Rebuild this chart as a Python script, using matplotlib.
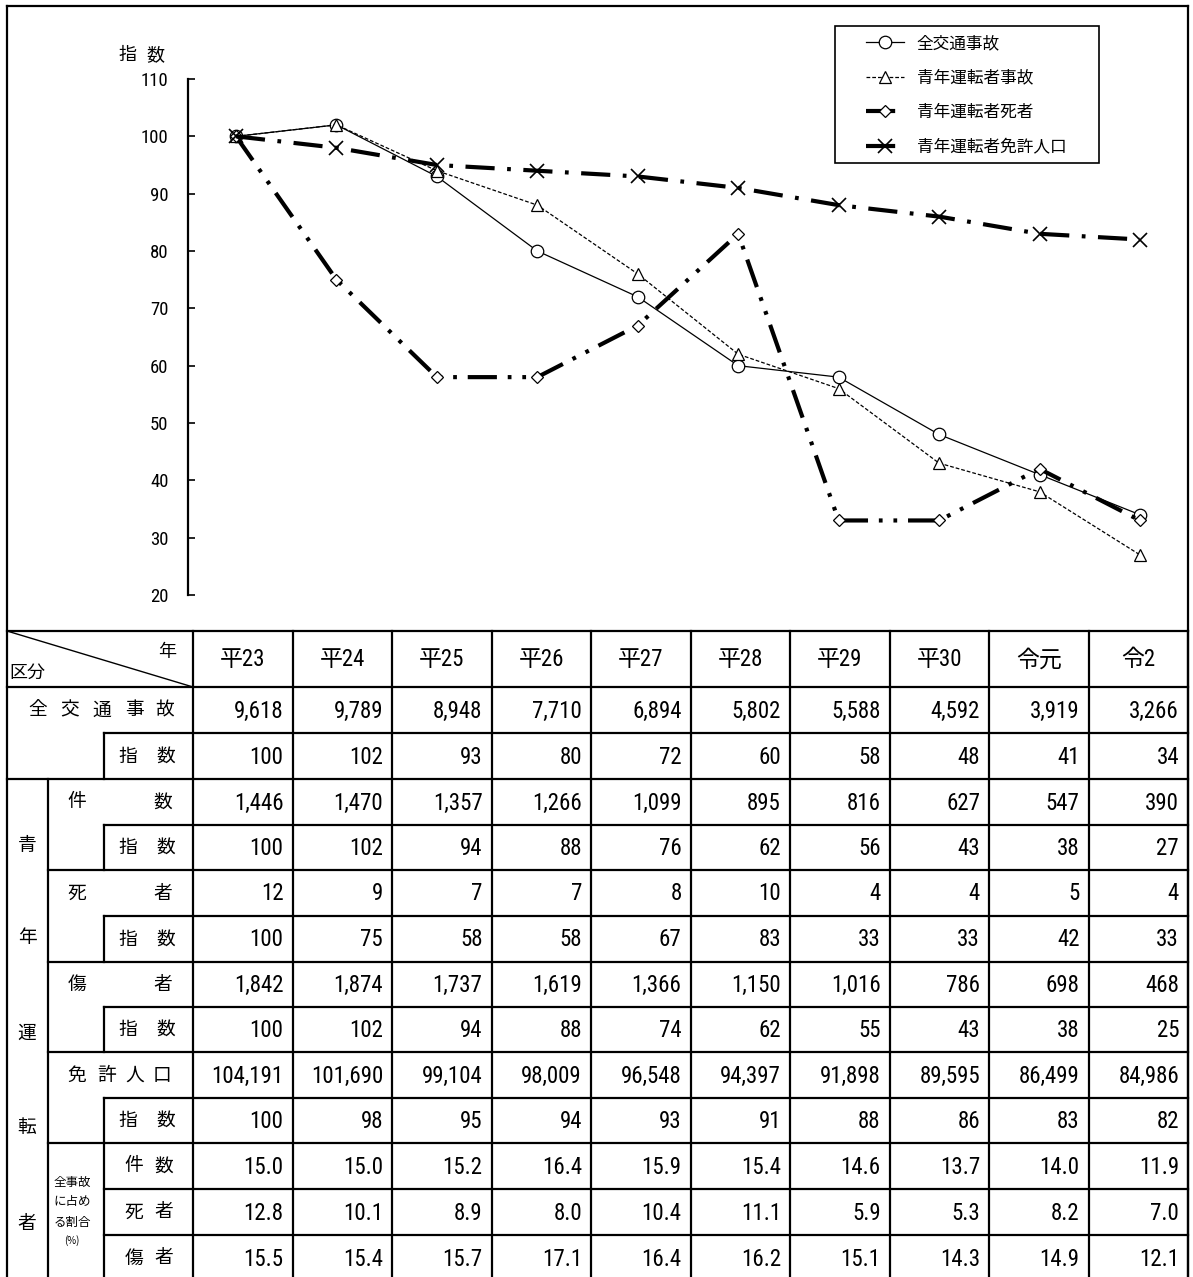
import matplotlib
matplotlib.use("Agg")
import matplotlib.pyplot as plt
from matplotlib import font_manager as fm
from matplotlib.patches import Rectangle

# ---- data ----
years = ['平23', '平24', '平25', '平26', '平27', '平28', '平29', '平30', '令元', '令2']
all_accidents = [9618, 9789, 8948, 7710, 6894, 5802, 5588, 4592, 3919, 3266]
all_index = [100, 102, 93, 80, 72, 60, 58, 48, 41, 34]
young_accidents = [1446, 1470, 1357, 1266, 1099, 895, 816, 627, 547, 390]
young_acc_index = [100, 102, 94, 88, 76, 62, 56, 43, 38, 27]
young_deaths = [12, 9, 7, 7, 8, 10, 4, 4, 5, 4]
young_death_index = [100, 75, 58, 58, 67, 83, 33, 33, 42, 33]
young_injured = [1842, 1874, 1737, 1619, 1366, 1150, 1016, 786, 698, 468]
young_inj_index = [100, 102, 94, 88, 74, 62, 55, 43, 38, 25]
licensed = [104191, 101690, 99104, 98009, 96548, 94397, 91898, 89595, 86499, 84986]
licensed_index = [100, 98, 95, 94, 93, 91, 88, 86, 83, 82]
share_acc = [15.0, 15.0, 15.2, 16.4, 15.9, 15.4, 14.6, 13.7, 14.0, 11.9]
share_death = [12.8, 10.1, 8.9, 8.0, 10.4, 11.1, 5.9, 5.3, 8.2, 7.0]
share_inj = [15.5, 15.4, 15.7, 17.1, 16.4, 16.2, 15.1, 14.3, 14.9, 12.1]

series_labels = ['全交通事故', '青年運転者事故', '青年運転者死者', '青年運転者免許人口']
y_ticks = [20, 30, 40, 50, 60, 70, 80, 90, 100, 110]


def pick_narrow_sans():
    """Return (family, stretch) of an installed regular narrow sans face, or None."""
    best, best_score = None, -1
    for fe in fm.fontManager.ttflist:
        name = fe.name.lower()
        stretch = str(fe.stretch).lower()
        if 'mono' in name or 'serif' in name or 'cjk' in name:
            continue
        if fe.style != 'normal' or fe.weight not in (400, 'normal', 'regular', 'book'):
            continue
        is_narrow = 'narrow' in name or 'condensed' in name
        is_cond = 'condensed' in stretch and 'semi' not in stretch and 'extra' not in stretch
        if not (is_narrow or is_cond):
            continue
        score = 1
        if 'sans' in name:
            score += 2
        if 'liberation' in name:
            score += 4
        if 'roboto' in name:
            score += 3
        if score > best_score:
            best_score = score
            best = (fe.name, 'normal' if is_narrow else 'condensed')
    return best


CJK = ['Noto Sans CJK JP', 'DejaVu Sans']
narrow = pick_narrow_sans()
if narrow:
    NUM = [narrow[0], 'Noto Sans CJK JP', 'DejaVu Sans']
    narrow_stretch = narrow[1]
    num_size, tick_size = 16.5, 13.5
else:
    NUM = ['Noto Sans CJK JP', 'DejaVu Sans']
    narrow_stretch = 'normal'
    num_size, tick_size = 14.5, 11.5
plt.rcParams['font.family'] = CJK

W, H = 1193, 1277
fig = plt.figure(figsize=(W / 100, H / 100), dpi=100)

# pixel-space overlay for frame and table
ov = fig.add_axes([0, 0, 1, 1])
ov.set_xlim(0, W)
ov.set_ylim(H, 0)
ov.axis('off')

# ---- chart axes ----
ax_l, ax_r, ax_t, ax_b = 188, 1188, 79, 595
ax = fig.add_axes([ax_l / W, (H - ax_b) / H, (ax_r - ax_l) / W, (ax_b - ax_t) / H])
ax.set_facecolor('none')
x0_px, step_px = 236, 100.44
ax.set_xlim((ax_l - x0_px) / step_px, (ax_r - x0_px) / step_px)
ax.set_ylim(20, 110)
for s in ['top', 'right', 'bottom']:
    ax.spines[s].set_visible(False)
ax.spines['left'].set_linewidth(1.6)
ax.set_xticks([])
ax.set_yticks(y_ticks)
ax.tick_params(axis='y', direction='in', length=5, width=1.2, pad=14, labelsize=tick_size)
for t in ax.get_yticklabels():
    t.set_family(NUM)
    t.set_stretch(narrow_stretch)

xs = list(range(len(years)))
ax.plot(xs, all_index, color='black', lw=0.9, marker='o', ms=9, mfc='white', mec='black',
        mew=0.9, label=series_labels[0], clip_on=False)
ax.plot(xs, young_acc_index, color='black', lw=0.9, dashes=(3, 1.6), marker='^', ms=9,
        mfc='white', mec='black', mew=0.9, label=series_labels[1], clip_on=False)
ax.plot(xs, young_death_index, color='black', lw=3, dashes=(7, 2.6, 0.9, 2.6, 0.9, 2.6),
        marker='D', ms=6, mfc='white', mec='black', mew=0.9, label=series_labels[2], clip_on=False)
ax.plot(xs, licensed_index, color='black', lw=3, dashes=(7, 3, 0.9, 3),
        marker='x', ms=10, mec='black', mew=1.2, label=series_labels[3], clip_on=False)

# legend entries without their own frame; the box is drawn separately
ax.legend(loc='upper left', bbox_to_anchor=(866 / W, 1 - 35 / H),
          bbox_transform=fig.transFigure, prop={'family': CJK, 'size': 12},
          frameon=False, handlelength=2.3, handletextpad=0.75, labelspacing=1.05,
          borderpad=0, borderaxespad=0)
ov.add_patch(Rectangle((835, 26), 264, 137, fill=False, ec='black', lw=1.2, zorder=5))

ov.text(127, 55, '指', ha='center', va='center', fontsize=13, family=CJK)
ov.text(155, 55, '数', ha='center', va='center', fontsize=13, family=CJK)

# ---- frame ----
LW = 1.6
def hline(y, x1, x2, lw=LW):
    ov.plot([x1, x2], [y, y], color='black', lw=lw, solid_capstyle='projecting')

def vline(x, y1, y2, lw=LW):
    ov.plot([x, x], [y1, y2], color='black', lw=lw, solid_capstyle='projecting')

left, right, top = 7, 1188, 6
hline(top, left, right)
vline(left, top, H + 5)
vline(right, top, H + 5)

# ---- table ----
rows_y = [631, 687, 733, 779, 825, 870, 916, 962, 1007, 1052, 1098, 1143, 1189, 1235, 1281]
col_x = [193 + 99.5 * i for i in range(11)]
sub1, sub2 = 48, 104

hline(rows_y[0], left, right)
hline(rows_y[1], left, right)
hline(rows_y[2], sub2, right)
hline(rows_y[3], left, right)
for k in range(4, 14):
    hline(rows_y[k], sub2 if k in (4, 6, 8, 10, 12, 13) else sub1, right)

for cx in col_x:
    vline(cx, rows_y[0], H + 5)
vline(sub1, rows_y[3], H + 5)
for a, b in [(2, 3), (4, 5), (6, 7), (8, 9), (10, 11), (11, 14)]:
    vline(sub2, rows_y[a], rows_y[b])

# header
ov.plot([left, col_x[0]], [rows_y[0], rows_y[1]], color='black', lw=1.0)
ov.text(167, 652, '年', ha='center', va='center', fontsize=13, family=CJK)
ov.text(9, 673, '区分', ha='left', va='center', fontsize=13, family=CJK)
for i, yr in enumerate(years):
    ov.text((col_x[i] + col_x[i + 1]) / 2, 660, yr, ha='center', va='center',
            fontsize=num_size, family=NUM, fontstretch=narrow_stretch)

def mid(k):
    return (rows_y[k] + rows_y[k + 1]) / 2

def label_chars(chars, xs_, k, size=13.5):
    for ch, xx in zip(chars, xs_):
        ov.text(xx, mid(k), ch, ha='center', va='center', fontsize=size, family=CJK)

label_chars('全交通事故', [38, 70, 102, 134, 165], 1)
label_chars('指数', [128, 166], 2)
label_chars('件数', [77, 163], 3)
label_chars('指数', [128, 166], 4)
label_chars('死者', [77, 163], 5)
label_chars('指数', [128, 166], 6)
label_chars('傷者', [77, 163], 7)
label_chars('指数', [128, 166], 8)
label_chars('免許人口', [77, 107, 135, 162], 9)
label_chars('指数', [128, 166], 10)
label_chars('件数', [134, 164], 11)
label_chars('死者', [134, 164], 12)
label_chars('傷者', [134, 164], 13)

for ch, yy in zip('青年運転者', [845, 938, 1033, 1127, 1223]):
    ov.text(27, yy, ch, ha='center', va='center', fontsize=13.5, family=CJK)
for txt, yy in zip(['全事故', 'に占め', 'る割合', '(%)'], [1182, 1202, 1222, 1241]):
    ov.text(72, yy, txt, ha='center', va='center', fontsize=9 if txt != '(%)' else 7,
            family=CJK)

table_rows = [
    [f'{v:,}' for v in all_accidents],
    [f'{v}' for v in all_index],
    [f'{v:,}' for v in young_accidents],
    [f'{v}' for v in young_acc_index],
    [f'{v}' for v in young_deaths],
    [f'{v}' for v in young_death_index],
    [f'{v:,}' for v in young_injured],
    [f'{v}' for v in young_inj_index],
    [f'{v:,}' for v in licensed],
    [f'{v}' for v in licensed_index],
    [f'{v:.1f}' for v in share_acc],
    [f'{v:.1f}' for v in share_death],
    [f'{v:.1f}' for v in share_inj],
]
for r, vals in enumerate(table_rows):
    for i, s in enumerate(vals):
        ov.text(col_x[i + 1] - 9, mid(r + 1) + 1, s, ha='right', va='center',
                fontsize=num_size, family=NUM, fontstretch=narrow_stretch)

fig.savefig('out.png', dpi=100)
